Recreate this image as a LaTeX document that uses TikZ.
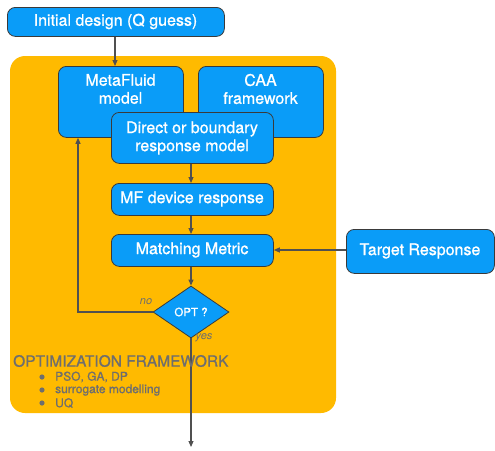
\documentclass[tikz,border=0pt]{standalone}
\usepackage{fontspec}
\setmainfont{TeX Gyre Heros}
\newfontfamily\medfont{TeX Gyre Heros}[FakeBold=0.9]
\usetikzlibrary{shapes.geometric,arrows.meta}
\definecolor{panel}{HTML}{FFBA00}
\definecolor{boxblue}{HTML}{0A9CF8}
\definecolor{edge}{HTML}{3A3A3A}
\definecolor{line}{HTML}{505050}
\definecolor{gtext}{HTML}{6E6E6E}
\tikzset{
  box/.style={draw=edge, line width=0.8pt, fill=boxblue, rounded corners=8pt, anchor=north west, inner sep=0pt},
  txt/.style={text=white, font=\medfont\fontsize{16}{18}\selectfont, align=center, inner sep=0pt},
  conn/.style={draw=line, line width=1.1pt, -{Triangle[length=6pt,width=5pt]}},
  lab/.style={text=gtext, font=\fontsize{11}{13}\selectfont\itshape, inner sep=0pt},
}
\begin{document}
\begin{tikzpicture}[x=1pt,y=-1pt]
\useasboundingbox (0,0) rectangle (495,450);
% panel
\fill[panel, rounded corners=15pt] (10,56) rectangle (336,413);
% boxes
\node[box, minimum width=217, minimum height=29] (init) at (7,7) {};
\node[txt] (initt) at (115.5,21.5) {Initial design (Q guess)};
\node[box, minimum width=125, minimum height=71] (mf) at (58,66) {};
\node[txt] (mft) at (120.5,89) {MetaFluid\\model};
\node[box, minimum width=125, minimum height=71] (caa) at (198,66) {};
\node[txt] (caat) at (260.5,89) {CAA\\framework};
\node[box, minimum width=162, minimum height=51] (dir) at (111,112) {};
\node[txt] (dirt) at (192,138) {Direct or boundary\\response model};
\node[box, minimum width=162, minimum height=32] (mfd) at (111,183) {};
\node[txt] (mfdt) at (192,199) {MF device response};
\node[box, minimum width=162, minimum height=32] (mm) at (111,234) {};
\node[txt] (mmt) at (192,250) {Matching Metric};
\node[box, minimum width=148, minimum height=44] (tr) at (346,229) {};
\node[txt] (trt) at (420,251) {Target Response};
\node[diamond, draw=edge, line width=0.8pt, fill=boxblue, minimum width=76, minimum height=52, inner sep=0pt, aspect=1.46] (opt) at (191,312) {};
\node[text=white, font=\medfont\fontsize{11.5}{13}\selectfont, inner sep=0pt] (optt) at (191,312) {OPT ?};
% connectors
\draw[conn] (init.south -| 115,0) -- (mf.north -| 115,0);
\draw[conn] (dir.south -| 191,0) -- (mfd.north -| 191,0);
\draw[conn] (mfd.south -| 191,0) -- (mm.north -| 191,0);
\draw[conn] (mm.south -| 191,0) -- (opt.north);
\draw[conn] (tr.west |- 0,250) -- (mm.east |- 0,250);
\draw[conn, rounded corners=0pt] (opt.west) -- (78,312) -- (mf.south -| 78,0);
\coordinate (out) at (191,447);
\draw[conn] (opt.south) -- (out);
\node[lab] (no) at (146,302) {no};
\node[lab] (yes) at (204,338) {yes};
% framework text
\node[text=gtext, font=\medfont\fontsize{15.5}{17}\selectfont, anchor=west, inner sep=0pt] (fw) at (13,361) {OPTIMIZATION FRAMEWORK};
\foreach \y/\t [count=\i] in {377/{PSO, GA, DP},390/{surrogate modelling},403/{UQ}} {
  \fill[gtext] (42,\y) circle (2.6);
  \node[text=gtext, font=\medfont\fontsize{12}{14}\selectfont, anchor=west, inner sep=0pt] (b\i) at (55,\y) {\t};
}
\end{tikzpicture}
\end{document}
